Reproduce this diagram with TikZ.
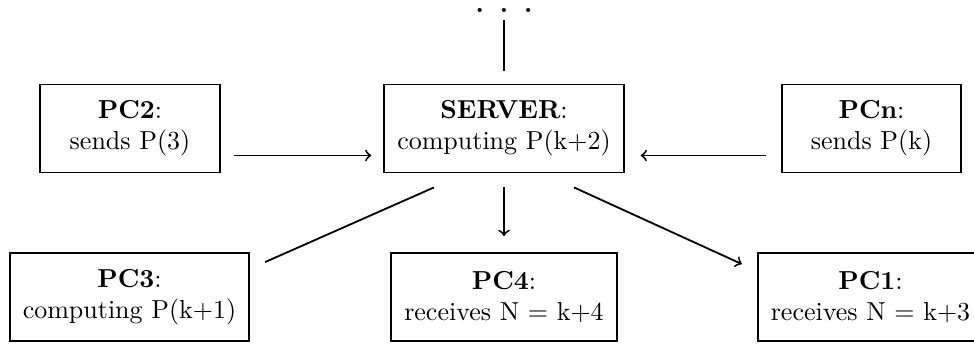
\documentclass[tikz,border=0pt]{standalone}
\usepackage{amsmath}
\usepackage{tikz}
\usetikzlibrary{calc}

\begin{document}
\begin{tikzpicture}[
                x=0.01352cm, y=-0.01352cm, % 像素坐标，y 轴向下
                line width=0.7pt,
                pcbox/.style={draw, align=center, inner xsep=5pt,
                    minimum width=2.43cm, minimum height=1.19cm},
            ]
            \useasboundingbox (0,0) rectangle (974,345);
            % 上排节点
            \node[pcbox] (server) at (504,128.5) {\textbf{SERVER}:\\computing P(k+2)};
            \node[pcbox] (pc2) at (130,128.5) {\textbf{PC2}:\\sends P(3)};
            \node[pcbox] (pcn) at (871.5,128.5) {\textbf{PCn}:\\sends P(k)};
            % 下排节点
            \node[pcbox] (pc3) at (129.5,297) {\textbf{PC3}:\\computing P(k+1)};
            \node[pcbox] (pc4) at (504,297) {\textbf{PC4}:\\receives N = k+4};
            \node[pcbox] (pc1) at (870.5,297) {\textbf{PC1}:\\receives N = k+3};
            % 省略号
            \node[inner sep=0pt, anchor=base] (dots) at (504,13)
                {\textbf{.}\hspace{6.1pt}\textbf{.}\hspace{6.1pt}\textbf{.}};

            % 连线
            \draw ($(dots.base)+(0,7)$) -- ($(server.north)+(0,-13)$);
            \draw[->] ($(pc2.east)+(13,27)$) -- ($(server.west)+(-12,27)$);
            \draw[->] ($(pcn.west)+(-15,27)$) -- ($(server.east)+(16,27)$);
            \draw[->] ($(server.south)+(0,14)$) -- ($(pc4.north)+(0,-16)$);
            \draw ($(server.south)+(-70,14)$) -- ($(pc3.north east)+(15,10)$);
            \draw[->] ($(server.south)+(70,14)$) -- ($(pc1.north west)+(-15,12)$);
            \end{tikzpicture}
\end{document}
